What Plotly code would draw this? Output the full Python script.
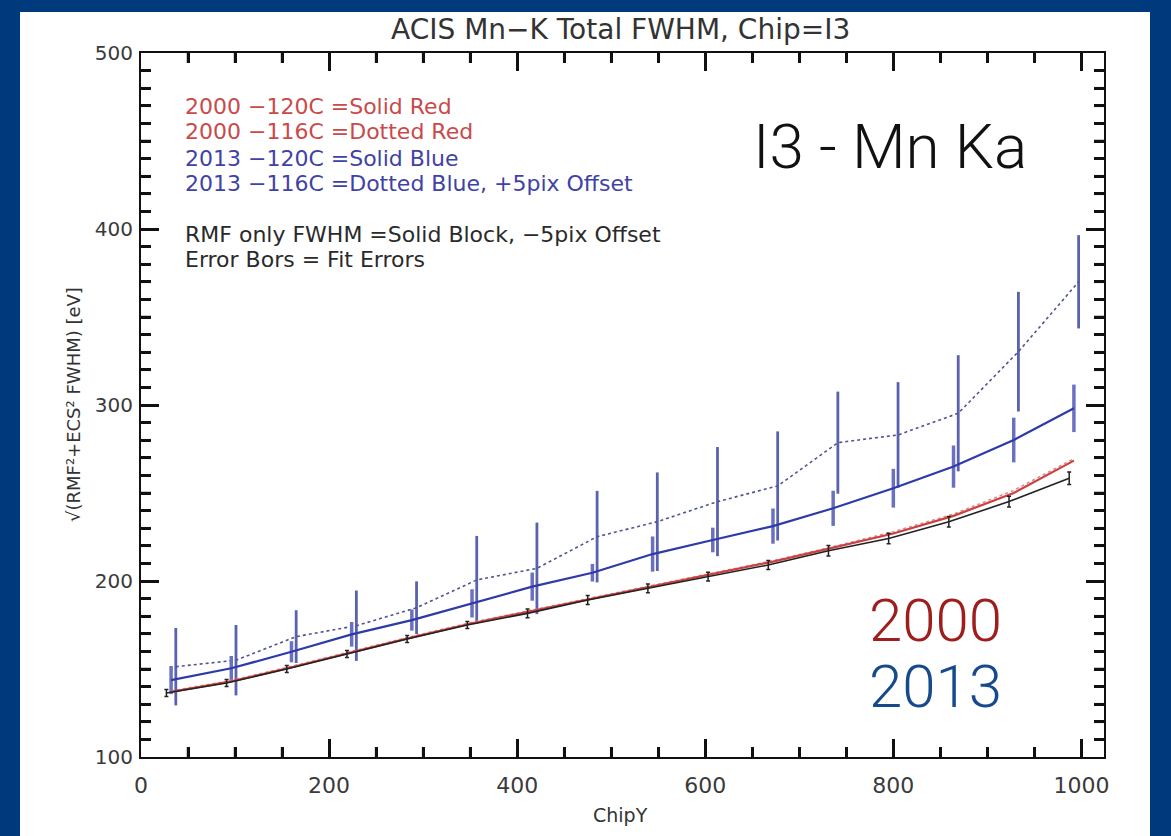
import plotly.graph_objects as go

# ---------------- data ----------------
chip_y = [32, 96, 160, 224, 288, 352, 416, 480, 544, 608, 672, 736, 800, 864, 928, 992]

blue_120 = [143.7, 150.4, 159.8, 169.7, 177.8, 187.3, 196.8, 204.7, 215.3, 223.3,
            231.2, 241.3, 252.7, 265.0, 280.1, 298.1]
blue_120_err = [8, 7, 6, 7, 6, 8, 8, 5, 10, 7, 10, 10, 11, 12, 12.7, 13.5]

blue_116 = [151.3, 155.0, 168.4, 174.6, 184.8, 200.6, 207.2, 225.2, 233.7, 245.1,
            254.0, 278.6, 283.0, 295.3, 330.3, 370.0]
blue_116_err = [22, 20, 15, 20, 15, 25, 26, 26, 28, 31, 31, 29, 30, 33, 34, 26.5]

red_120 = [137.0, 143.0, 151.0, 159.5, 168.0, 176.0, 183.0, 190.0, 197.0, 204.0,
           211.0, 219.0, 227.0, 237.0, 250.0, 268.4]
red_116 = [137.5, 143.5, 151.5, 160.0, 168.5, 176.5, 183.5, 190.5, 197.5, 204.5,
           211.5, 219.5, 228.0, 238.0, 251.5, 269.5]

rmf_only = [136.4, 142.0, 150.0, 158.5, 167.0, 175.0, 181.6, 189.2, 195.8, 202.5,
            209.1, 217.2, 224.1, 233.7, 245.1, 258.4]
rmf_err = [2, 2, 2, 2, 2, 2, 2.5, 2.5, 2.5, 2.5, 2.5, 3, 3, 3, 3, 3.5]

OFFSET_DOTTED = 5    # "+5pix Offset"
OFFSET_RMF = -5      # "-5pix Offset"

x_dotted = [v + OFFSET_DOTTED for v in chip_y]
x_rmf = [v + OFFSET_RMF for v in chip_y]

legend_lines = [
    ("2000 \u2212120C =Solid Red", "#C94A4A"),
    ("2000 \u2212116C =Dotted Red", "#C94A4A"),
    ("2013 \u2212120C =Solid Blue", "#3F42A6"),
    ("2013 \u2212116C =Dotted Blue, +5pix Offset", "#3F42A6"),
    ("RMF only FWHM =Solid Block, \u22125pix Offset", "#2A2A2A"),
    ("Error Bors = Fit Errors", "#2A2A2A"),
]
legend_y_px = [107, 132, 158, 184, 234, 259]

X_RANGE = [0, 1024]
Y_RANGE = [100, 500]
X_MAJOR, X_MINOR = 200, 50
Y_MAJOR, Y_MINOR = 100, 10

# ---------------- layout geometry ----------------
W, H = 1171, 836
L, R, T, B = 141, 1104, 53, 757   # plot area in pixels
PW, PH = R - L, B - T


def px(xp):
    return (xp - L) / PW


def py(yp):
    return (B - yp) / PH


fig = go.Figure()

# 2013 -116C dotted blue with error bars
fig.add_trace(go.Scatter(
    x=x_dotted, y=blue_116, mode="lines",
    line=dict(color="#4E5690", width=1.6, dash="dot"),
    error_y=dict(type="data", array=blue_116_err, visible=True,
                 color="#5A62AE", thickness=2.8, width=0),
    showlegend=False))

# 2013 -120C solid blue with error bars
fig.add_trace(go.Scatter(
    x=chip_y, y=blue_120, mode="lines",
    line=dict(color="#2E3AA8", width=2.2),
    error_y=dict(type="data", array=blue_120_err, visible=True,
                 color="#6A72C0", thickness=3.5, width=0),
    showlegend=False))

# 2000 -116C dotted red
fig.add_trace(go.Scatter(
    x=chip_y, y=red_116, mode="lines",
    line=dict(color="#E08A8A", width=1.6, dash="dot"),
    showlegend=False))

# 2000 -120C solid red
fig.add_trace(go.Scatter(
    x=chip_y, y=red_120, mode="lines",
    line=dict(color="#CC4040", width=2.2),
    showlegend=False))

# RMF only, solid black
fig.add_trace(go.Scatter(
    x=x_rmf, y=rmf_only, mode="lines",
    line=dict(color="#222222", width=1.6),
    error_y=dict(type="data", array=rmf_err, visible=True,
                 color="#222222", thickness=1.5, width=2),
    showlegend=False))

annotations = []
# title
annotations.append(dict(x=px(620), y=py(30), xref="paper", yref="paper",
                        text="ACIS Mn\u2212K Total FWHM, Chip=I3", showarrow=False,
                        font=dict(family="DejaVu Sans", size=28, color="#333333"),
                        xanchor="center", yanchor="middle"))
# x axis title
annotations.append(dict(x=px(620), y=py(815), xref="paper", yref="paper",
                        text="ChipY", showarrow=False,
                        font=dict(family="DejaVu Sans", size=19, color="#333333"),
                        xanchor="center", yanchor="middle"))
# y axis title
annotations.append(dict(x=px(73), y=py(405), xref="paper", yref="paper",
                        text="\u221A(RMF\u00B2+ECS\u00B2 FWHM) [eV]", showarrow=False,
                        textangle=-90,
                        font=dict(family="DejaVu Sans", size=18, color="#333333"),
                        xanchor="center", yanchor="middle"))
# in-plot legend text
for (txt, col), ypx in zip(legend_lines, legend_y_px):
    annotations.append(dict(x=px(183), y=py(ypx), xref="paper", yref="paper",
                            text=txt, showarrow=False,
                            font=dict(family="DejaVu Sans", size=22, color=col),
                            xanchor="left", yanchor="middle"))
# big labels
annotations.append(dict(x=px(890), y=py(146), xref="paper", yref="paper",
                        text="I3 - Mn Ka", showarrow=False,
                        font=dict(family="Roboto", size=62, color="#111111", weight=300),
                        xanchor="center", yanchor="middle"))
annotations.append(dict(x=px(935), y=py(620), xref="paper", yref="paper",
                        text="2000", showarrow=False,
                        font=dict(family="Roboto", size=60, color="#9E1D1D", weight=300),
                        xanchor="center", yanchor="middle"))
annotations.append(dict(x=px(935), y=py(686), xref="paper", yref="paper",
                        text="2013", showarrow=False,
                        font=dict(family="Roboto", size=60, color="#174A8C", weight=300),
                        xanchor="center", yanchor="middle"))

# white panel on the blue slide background
shapes = [dict(type="rect", xref="paper", yref="paper", layer="below",
               x0=px(20), x1=px(1150), y0=py(836 + 5), y1=py(12),
               fillcolor="white", line=dict(width=0))]

# IDL-style minor ticks on all four sides (axis decoration)
XMIN_LEN, YMIN_LEN = 10, 10
tick_line = dict(color="#111111", width=2.5)
v = X_RANGE[0]
while v <= X_RANGE[1]:
    if v % X_MAJOR != 0:
        shapes.append(dict(type="line", xref="x", yref="paper", layer="above",
                           x0=v, x1=v, y0=0, y1=XMIN_LEN / PH, line=tick_line))
        shapes.append(dict(type="line", xref="x", yref="paper", layer="above",
                           x0=v, x1=v, y0=1, y1=1 - XMIN_LEN / PH, line=tick_line))
    v += X_MINOR
v = Y_RANGE[0]
while v <= Y_RANGE[1]:
    if v % Y_MAJOR != 0:
        shapes.append(dict(type="line", xref="paper", yref="y", layer="above",
                           x0=0, x1=YMIN_LEN / PW, y0=v, y1=v, line=tick_line))
        shapes.append(dict(type="line", xref="paper", yref="y", layer="above",
                           x0=1, x1=1 - YMIN_LEN / PW, y0=v, y1=v, line=tick_line))
    v += Y_MINOR

fig.update_layout(
    width=W, height=H, autosize=False,
    margin=dict(l=L, r=W - R, t=T, b=H - B, pad=0),
    paper_bgcolor="#013A7C",
    plot_bgcolor="white",
    annotations=annotations,
    shapes=shapes,
    font=dict(family="DejaVu Sans", color="#333333"),
)

fig.update_layout(
    xaxis=dict(
        range=X_RANGE, tickmode="linear", tick0=0, dtick=X_MAJOR,
        ticks="inside", ticklen=18, tickwidth=2.5, tickcolor="#111111",
        minor=dict(dtick=X_MINOR, tick0=0, ticks="inside", ticklen=XMIN_LEN,
                   tickwidth=2.5, tickcolor="#111111", showgrid=False),
        showline=True, linecolor="#111111", linewidth=2, mirror="allticks",
        showgrid=False, zeroline=False,
        tickfont=dict(family="DejaVu Sans", size=22, color="#3a3a3a"),
        ticklabelstandoff=8,
    ),
    yaxis=dict(
        range=Y_RANGE, tickmode="linear", tick0=100, dtick=Y_MAJOR,
        ticks="inside", ticklen=18, tickwidth=2.5, tickcolor="#111111",
        minor=dict(dtick=Y_MINOR, tick0=100, ticks="inside", ticklen=YMIN_LEN,
                   tickwidth=2.5, tickcolor="#111111", showgrid=False),
        showline=True, linecolor="#111111", linewidth=2, mirror="allticks",
        showgrid=False, zeroline=False,
        tickfont=dict(family="DejaVu Sans", size=20, color="#3a3a3a"),
        ticklabelstandoff=2,
    ),
)

fig.write_html("out.html")
